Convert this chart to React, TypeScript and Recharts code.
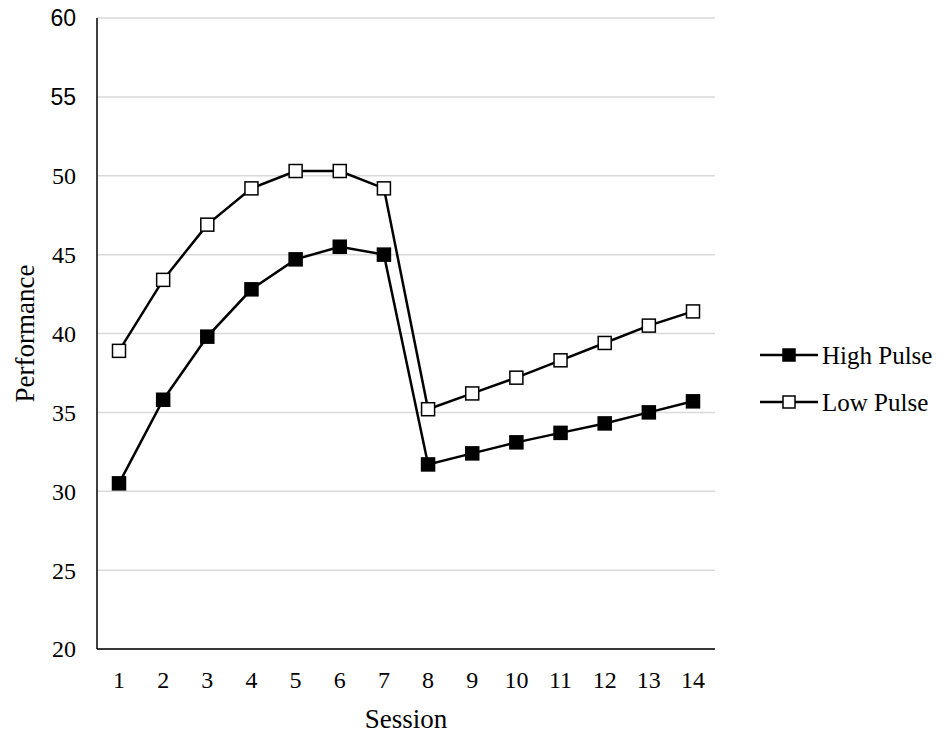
import React from "react";
import { LineChart, Line, XAxis, YAxis, CartesianGrid } from "recharts";

// ─── Data ────────────────────────────────────────────────────────────────────

const sessions = ["1", "2", "3", "4", "5", "6", "7", "8", "9", "10", "11", "12", "13", "14"];
const highPulse = [30.5, 35.8, 39.8, 42.8, 44.7, 45.5, 45.0, 31.7, 32.4, 33.1, 33.7, 34.3, 35.0, 35.7];
const lowPulse = [38.9, 43.4, 46.9, 49.2, 50.3, 50.3, 49.2, 35.2, 36.2, 37.2, 38.3, 39.4, 40.5, 41.4];
const yTicks = [20, 25, 30, 35, 40, 45, 50, 55, 60];
const seriesNames = ["High Pulse", "Low Pulse"];

const SERIF = "'Liberation Serif', 'Times New Roman', serif";
const SANS = "'Liberation Sans', Arial, sans-serif";

const data = sessions.map((s, i) => ({ session: s, high: highPulse[i], low: lowPulse[i] }));

// ─── Marks ───────────────────────────────────────────────────────────────────

function squareDot(fill: string) {
  return (props: any) => {
    const { cx, cy, index } = props;
    if (cx == null || cy == null) return <g key={`d-${index}`} />;
    return (
      <rect
        key={`d-${fill}-${index}`}
        x={cx - 6.5}
        y={cy - 6.5}
        width={13}
        height={13}
        fill={fill}
        stroke="#000"
        strokeWidth={1.5}
      />
    );
  };
}

function YTick(props: any) {
  const { x, y, payload } = props;
  // the two top labels in the source use a sans face
  const sans = payload.value >= 55;
  return (
    <text
      x={x}
      y={y}
      dy="0.35em"
      textAnchor="end"
      fontFamily={sans ? SANS : SERIF}
      fontSize={sans ? 23 : 24}
      fill="#000"
    >
      {payload.value}
    </text>
  );
}

// Drawn outside the chart so it doesn't eat into the plot area.
function LegendBox() {
  const fills = ["#000", "#fff"];
  return (
    <svg width={195} height={90} style={{ position: "absolute", left: 755, top: 335 }}>
      {seriesNames.map((name, i) => {
        const y = 20 + i * 47;
        return (
          <g key={name}>
            <line x1={5} x2={63} y1={y} y2={y} stroke="#000" strokeWidth={2.5} />
            <rect x={28} y={y - 6} width={12} height={12} fill={fills[i]} stroke="#000" strokeWidth={1.5} />
            <text x={67} y={y} dy="0.35em" fontFamily={SERIF} fontSize={25} fill="#000">
              {name}
            </text>
          </g>
        );
      })}
    </svg>
  );
}

// ─── Main ────────────────────────────────────────────────────────────────────

export default function App() {
  return (
    <div style={{ position: "absolute", left: 0, top: 0, width: 950, height: 737, background: "#fff", fontFamily: SERIF }}>
      <LineChart width={950} height={737} data={data} margin={{ top: 18, right: 235, bottom: 0, left: 0 }}>
        <CartesianGrid vertical={false} stroke="#d9d9d9" strokeWidth={1.5} />
        <XAxis
          dataKey="session"
          height={88}
          padding={{ left: 22, right: 22 }}
          axisLine={{ stroke: "#000", strokeWidth: 1.5 }}
          tickLine={false}
          tickSize={0}
          tickMargin={22}
          tick={{ fill: "#000", fontSize: 24, fontFamily: SERIF }}
          label={({ viewBox }: any) => (
            <text
              x={viewBox.x + viewBox.width / 2}
              y={728}
              textAnchor="middle"
              fontFamily={SERIF}
              fontSize={27}
              fill="#000"
            >
              Session
            </text>
          )}
        />
        <YAxis
          width={97}
          domain={[20, 60]}
          ticks={yTicks}
          interval={0}
          axisLine={{ stroke: "#000", strokeWidth: 1.5 }}
          tickLine={false}
          tickSize={0}
          tickMargin={21}
          tick={<YTick />}
          label={({ viewBox }: any) => {
            const cy = viewBox.y + viewBox.height / 2;
            return (
              <text
                x={34}
                y={cy}
                textAnchor="middle"
                transform={`rotate(-90 34 ${cy})`}
                fontFamily={SERIF}
                fontSize={27}
                fill="#000"
              >
                Performance
              </text>
            );
          }}
        />
        <Line
          dataKey="high"
          name={seriesNames[0]}
          stroke="#000"
          strokeWidth={2.5}
          dot={squareDot("#000")}
          activeDot={false}
          isAnimationActive={false}
        />
        <Line
          dataKey="low"
          name={seriesNames[1]}
          stroke="#000"
          strokeWidth={2.5}
          dot={squareDot("#fff")}
          activeDot={false}
          isAnimationActive={false}
        />
      </LineChart>
      <LegendBox />
    </div>
  );
}
